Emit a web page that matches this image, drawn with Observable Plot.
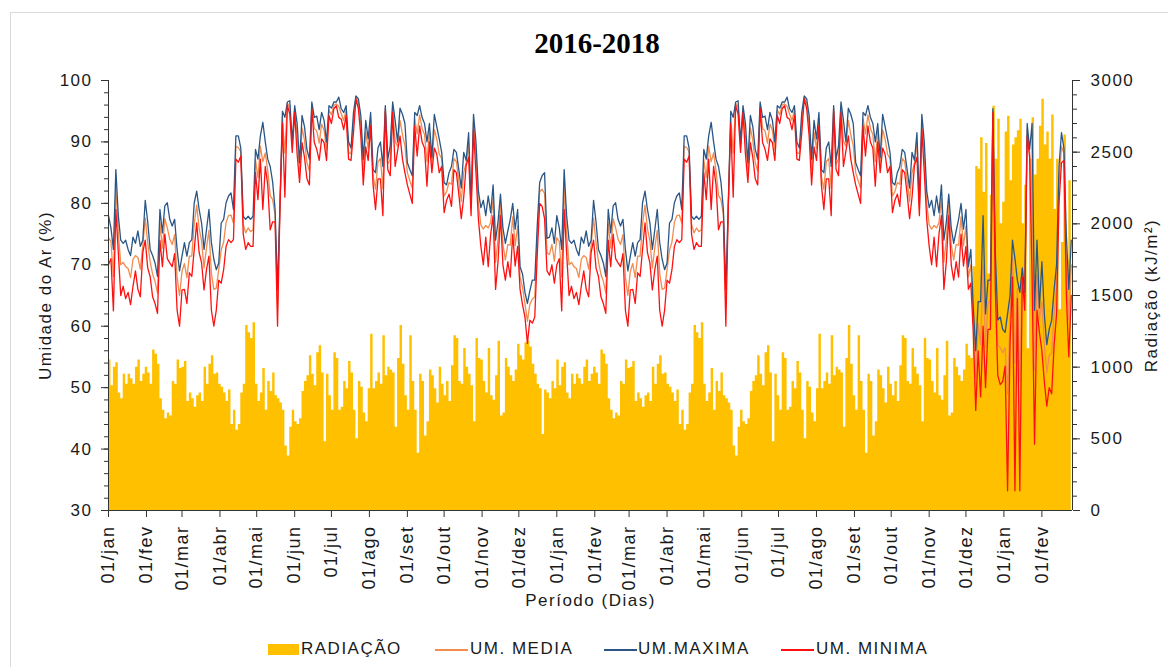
<!DOCTYPE html>
<html><head><meta charset="utf-8">
<script src="https://cdn.jsdelivr.net/npm/d3@7"></script>
<script src="https://cdn.jsdelivr.net/npm/@observablehq/plot@0.6"></script>
<style>
body{margin:0;background:#fff;width:1168px;height:667px;overflow:hidden;position:relative;font-family:"Liberation Sans",Arial,sans-serif;}
#border{position:absolute;left:10px;top:12px;width:1200px;height:700px;border-left:1px solid #d9d9d9;border-top:1px solid #d9d9d9;}
#title{position:absolute;left:497px;width:200px;top:29px;text-align:center;font:bold 29px/29px "Liberation Serif","Times New Roman",serif;color:#000;}
#chart{position:absolute;left:0;top:62px;}
.leg{position:absolute;top:640px;font-size:17px;line-height:17px;letter-spacing:1.5px;color:#1a1a1a;white-space:nowrap;}
.sw{position:absolute;}
</style></head><body>
<div id="border"></div>
<div id="title">2016-2018</div>
<div id="chart"></div>
<div id="legend"></div>
<script>
// ---- data ----
// base year, every 2nd day from 1 Jan (repeated in 2016 and 2017 up to early Dec)
const baseMax = [
78,76,72.5,85.5,78,74,73.5,74,72.5,71.5,
74.5,73.5,75.5,73,74,80.5,77,72.5,71.5,70.3,
68.1,79,75.2,79.6,80.1,77.4,76.3,77.4,72.5,69,
71.4,73.6,71.4,73.6,74.1,80.1,82,79,76.8,72.5,
75.7,79,73.6,70.9,69.2,70.3,76.8,77.4,80.1,81.2,
81.7,79,91,91,89,77.9,77.4,77.9,77.4,77.9,
88.8,87.2,91,93.2,90,87.2,86,83.5,79,66,
80,95,94,96.5,96.7,90,95.9,93,86.6,94.3,
92.5,88.8,87.2,96.5,94,94.2,92,94.8,93.5,90,
95.9,95.5,96.5,96.5,97.3,95.4,94.8,95.9,90,89,
94.8,97.5,97,94.3,87.2,93.5,90.5,94.8,85.5,85,
89,90,86,95.9,87.2,89.4,96.5,93.5,90,95.5,
94.5,93,86.6,85.5,84.5,94.8,94.3,95.9,94,93,
90,93,87.5,94.5,92.5,90.5,88.3,83.4,83,85,
86,88.8,88.3,85.5,82.5,88.3,87,91.5,80,94.5,
90,82,79.3,80.5,78,81.2,78.5,83,74,77,
81.5,76,73.5,75.5,77.4,80,75.8,79,69.7,68.5,
65.5,63.7,65.8,67.5,67.5,76.3,83.4,84.5,85,74.3,
74.5,76,73.5];
const baseMin = [
70,71,62.5,79,72,65,66.5,64.5,65.5,63.5,
66.5,69,66,64.8,72,74,69.5,68.1,64.8,63.7,
62.1,74,69.7,75,71,70.3,69.7,71.8,62.6,60,
65.9,66,63.7,68.7,68.1,72.5,76.8,72,70.3,65.9,
69.2,71.4,62.6,60,62.6,67.5,67,69.2,73,74.1,
73.6,74.1,87.2,86.7,87.7,75,72.5,73.6,73,73,
85,80.6,87.2,79,86,83,75.7,77,77,60,
79.5,93,81,96,94.5,88.3,94.8,88,83.4,89.9,
87.5,84,83,95.4,89.9,88.8,87,90.5,89.9,87,
94.3,93,95.4,95.9,94,93.7,92,94.3,87.2,87,
91.5,97,95.4,91,83,89.2,87,92.6,83,79,
84,84,78,95,85.5,84.5,94.8,86,88.5,91,
87.2,85,83,81.5,80,92.6,87.7,92.6,90,89,
82.8,90,85,89,88,85,86,78.5,80.5,81.5,
79.5,85.5,85,81.5,77.5,81,86.2,87.5,78,92,
85,77.4,73,70,74.5,69.7,75,78,66,70.5,
78,70,67.5,70.5,68,75,69.8,73,66,63.5,
61.5,57.2,61,60.5,61.5,71.5,80,79.5,77.5,69,
68.3,70,67];
const baseMed = [
74.4,73.8,68,82.6,75.3,70,70.4,69.7,69.4,67.9,
70.9,71.5,71.2,69.3,73.1,77.6,73.6,70.5,68.5,67.3,
65.4,76.8,72.7,77.5,76,74.2,73.3,74.9,68,65,
68.9,70.2,67.9,71.4,71.4,76.7,79.7,75.9,73.9,69.5,
72.8,75.6,68.6,66,66.2,69.2,72.4,73.7,76.9,78,
78.1,76.8,89.3,89.1,88.4,76.6,75.2,76,75.4,75.7,
87.1,84.2,89.3,86.8,88.2,85.3,81.3,80.6,78.1,63.3,
79.8,94.1,88.2,96.3,95.7,89.2,95.4,90.8,85.2,92.3,
90.3,86.6,85.3,96,92.2,91.8,89.8,92.9,91.9,88.7,
95.2,94.4,96,96.2,95.8,94.6,93.5,95.2,88.2,88.1,
93.3,97.3,96.3,92.8,85.3,91.6,88.9,93.8,84.4,82.3,
86.8,87.3,82.4,95.5,86.4,87.2,95.7,90.1,89.3,93.5,
91.2,89.4,85,83.7,82.5,93.8,91.3,94.4,92.2,91.2,
86.8,91.7,86.4,92,90.5,88,87.3,81.2,81.9,83.4,
83.1,87.3,86.8,83.7,80.3,85,86.6,89.7,79.1,93.4,
87.8,79.9,76.5,75.8,76.4,76,76.9,80.8,70.4,74.1,
79.9,73.3,70.8,73.3,73.2,77.8,73.1,76.3,68,66.3,
63.7,60.8,63.6,64.4,64.8,74.1,81.9,82.3,81.6,71.9,
71.7,73.3,70.6];
const baseRad = [
1050,870,1000,1030,820,780,950,880,950,920,
880,1000,1050,900,950,1000,960,880,1120,1090,
1020,780,700,640,680,660,900,880,1050,990,
1000,1040,760,820,780,720,800,820,760,1000,
880,1020,1080,950,960,880,860,820,760,840,
600,700,560,600,820,880,1290,1240,1200,1310,
880,760,820,990,700,900,830,960,800,780,
750,700,450,380,580,700,620,600,640,830,
900,940,1080,950,870,1100,1150,960,480,950,
800,700,1100,1060,700,720,900,850,1040,960,
700,500,900,860,680,620,850,1230,850,900,
960,880,1220,940,1000,980,960,580,1060,1290,
1020,800,700,1220,900,700,400,950,900,520,
620,980,940,850,750,1000,880,800,900,760,
1010,1220,1200,900,880,1130,1000,950,870,620,
1200,1060,1050,900,820,1130,800,770,940,1180,
660,680,1060,1000,940,900,980,1160,1080,1050,
1170,1180,1140,1020,950,880,850,530,840,820,
780,900,850];
// Dec 2017 - Feb 2018, every 2nd day from 5 Dec 2017
const tailMax = [72.5,63,56,64,64,78,62,67.5,67.5,95.4,72,61,61.5,59.5,59,62,65,74,71,67.5,65.5,69.5,65.5,93,88.8,93,62.6,74,63,70.5,62,57,59.5,61,66,70,86,91.5,89,74.7,66,74];
const tailMin = [67,59,46.3,56,48.5,60,50,59.5,59.5,94.8,66,52,50.5,51,53.5,33.2,57,68,33.2,64.5,33.2,68,62.6,91,87.5,68,40.8,62.6,59,56,51,47,50,49,57,62,80,86.6,87,65,55,65];
const tailMed = [70,61.2,51.6,60.4,57,69.9,56.6,63.9,63.9,95.1,69.3,57,56.5,55.7,56.5,49,61.4,71.3,54,66.2,51,68.8,64.2,92.1,88.2,81.8,52.8,68.3,61.2,64,57,52.5,55.2,55.6,62,66.4,83.3,89.3,88.1,70.3,61,70];
const tailRad = [1060,1700,2400,2380,2600,2220,2560,1650,2200,2820,2450,2730,2000,2150,2640,2750,2300,2550,2600,2650,2730,2000,2270,1128,2450,2740,2340,2450,2680,2870,2550,2640,2450,2760,2100,2450,1400,1870,2620,1750,2300,2500];

const monthNames = ["jan","fev","mar","abr","mai","jun","jul","ago","set","out","nov","dez"];
const leftTicks = [30,40,50,60,70,80,90,100];
const rightTicks = [0,500,1000,1500,2000,2500,3000];
const seriesNames = ["RADIAÇÃO","UM. MEDIA","UM.MAXIMA","UM. MINIMA"];
const colors = {rad:"#FFC000", med:"#F28C4F", max:"#2A5686", min:"#FF1010"};

// ---- table ----
const DAY = 864e5;
const t2016 = Date.UTC(2016,0,1), t2017 = Date.UTC(2017,0,1), tDec17 = Date.UTC(2017,11,5);
const rows = [];
baseMax.forEach((v,i)=>rows.push({date:new Date(t2016+2*i*DAY),max:v,min:baseMin[i],med:baseMed[i],rad:baseRad[i]}));
baseMax.forEach((v,i)=>{ if (2*i<=336) rows.push({date:new Date(t2017+2*i*DAY),max:v,min:baseMin[i],med:baseMed[i],rad:baseRad[i]}); });
tailMax.forEach((v,i)=>rows.push({date:new Date(tDec17+2*i*DAY),max:v,min:tailMin[i],med:tailMed[i],rad:tailRad[i]}));

const xStart = new Date(Date.UTC(2016,0,1)), xEnd = new Date(Date.UTC(2018,1,26));
const radToH = r => 30 + r*70/3000;
const hToRad = h => String(Math.round((h-30)*3000/70));
const monthTicks = d3.utcMonth.range(xStart, xEnd);

const axisColor = "#333";
const chart = Plot.plot({
  width:1168, height:548,
  marginLeft:108, marginRight:96, marginTop:18, marginBottom:100,
  x:{type:"utc", domain:[xStart,xEnd]},
  y:{domain:[30,100]},
  style:{fontFamily:"'Liberation Sans', Arial, sans-serif", fontSize:"17px", color:"#1a1a1a", background:"transparent", overflow:"visible"},
  marks:[
    Plot.areaY(rows,{x:"date", y1:30, y2:d=>radToH(d.rad), curve:"step-after", fill:colors.rad}),
    Plot.line(rows,{x:"date", y:"med", stroke:colors.med, strokeWidth:1.3}),
    Plot.line(rows,{x:"date", y:"max", stroke:colors.max, strokeWidth:1.3}),
    Plot.line(rows,{x:"date", y:"min", stroke:colors.min, strokeWidth:1.3}),
    Plot.ruleY([30],{stroke:axisColor}),
    Plot.ruleX([xStart, xEnd],{stroke:axisColor}),
    Plot.axisY(d3.range(30,101,2),{anchor:"left", tickSize:4, tickFormat:()=>"", label:null, stroke:axisColor}),
    Plot.axisY(leftTicks,{anchor:"left", tickSize:7, tickPadding:9, label:null, stroke:axisColor}),
    Plot.axisY(d3.range(0,3001,100).map(radToH),{anchor:"right", tickSize:4, tickFormat:()=>"", label:null, stroke:axisColor}),
    Plot.axisY(rightTicks.map(radToH),{anchor:"right", tickSize:7, tickPadding:11, tickFormat:hToRad, label:null, stroke:axisColor}),
    Plot.axisX(monthTicks,{anchor:"bottom", tickSize:7, tickPadding:8, tickRotate:-90, fontSize:18, label:null, stroke:axisColor,
      tickFormat:d=>"01/"+monthNames[d.getUTCMonth()]}),
    Plot.text(["Umidade do Ar (%)"],{frameAnchor:"left", rotate:-90, dx:-63, textAnchor:"middle", lineAnchor:"middle", fontSize:17}),
    Plot.text(["Radiação (kJ/m²)"],{frameAnchor:"right", rotate:-90, dx:79, textAnchor:"middle", lineAnchor:"middle", fontSize:17}),
    Plot.text(["Período (Dias)"],{frameAnchor:"bottom", dy:90, textAnchor:"middle", lineAnchor:"middle", fontSize:17})
  ]
});
chart.style.letterSpacing = "1.5px";
document.getElementById("chart").appendChild(chart);

// legend
const leg = document.getElementById("legend");
const items = [
  {name:seriesNames[0], color:colors.rad, type:"rect", sx:268, tx:301},
  {name:seriesNames[1], color:colors.med, type:"line", sx:435, tx:470},
  {name:seriesNames[2], color:colors.max, type:"line", sx:604, tx:638},
  {name:seriesNames[3], color:colors.min, type:"line", sx:781, tx:816}
];
items.forEach(it=>{
  const sw = document.createElement("div");
  sw.className = "sw";
  if (it.type==="rect") { Object.assign(sw.style,{left:it.sx+"px", top:"644px", width:"31px", height:"11px", background:it.color}); }
  else { Object.assign(sw.style,{left:it.sx+"px", top:"649px", width:"33px", height:"1.5px", background:it.color}); }
  leg.appendChild(sw);
  const t = document.createElement("div");
  t.className = "leg"; t.style.left = it.tx+"px"; t.textContent = it.name;
  leg.appendChild(t);
});
</script>
</body></html>
